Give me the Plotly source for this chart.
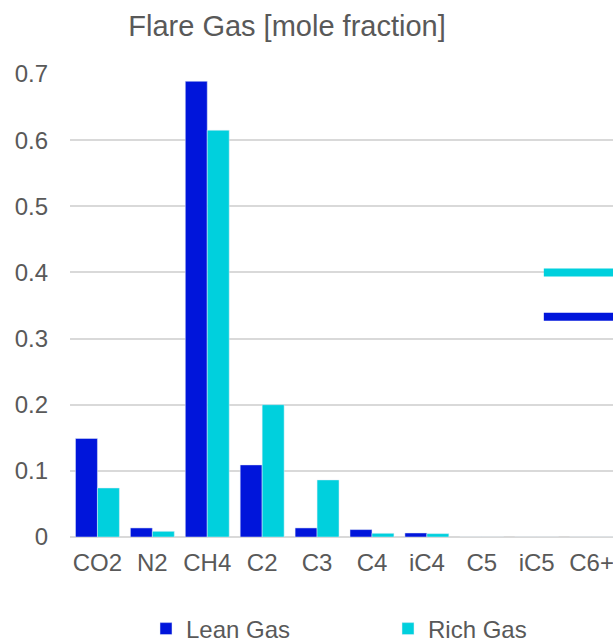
import plotly.graph_objects as go

categories = ["CO2", "N2", "CH4", "C2", "C3", "C4", "iC4", "C5", "iC5", "C6+"]
lean_gas = [0.149, 0.0137, 0.689, 0.109, 0.0137, 0.0112, 0.0061, 0, 0, 0]
rich_gas = [0.0741, 0.0086, 0.615, 0.200, 0.0863, 0.0056, 0.0051, 0, 0, 0]
# partially visible overlay segments at the right edge
overlay_x = [8.13, 9.6]
overlay_rich = 0.40
overlay_lean = 0.333
y_ticks = [0, 0.1, 0.2, 0.3, 0.4, 0.5, 0.6, 0.7]
y_tick_text = ["0", "0.1", "0.2", "0.3", "0.4", "0.5", "0.6", "0.7"]

LEAN = "#0015DB"
RICH = "#00D0DD"
TXT = "#595959"
GRID = "#D9D9D9"
FONT = "Liberation Sans, Arial, sans-serif"

xpos = list(range(len(categories)))

fig = go.Figure()
fig.add_trace(go.Bar(x=xpos, y=lean_gas, name="Lean Gas", marker_color=LEAN))
fig.add_trace(go.Bar(x=xpos, y=rich_gas, name="Rich Gas", marker_color=RICH))
fig.add_trace(go.Scatter(x=overlay_x, y=[overlay_rich] * 2, mode="lines",
                         line=dict(color=RICH, width=8), showlegend=False, hoverinfo="skip"))
fig.add_trace(go.Scatter(x=overlay_x, y=[overlay_lean] * 2, mode="lines",
                         line=dict(color=LEAN, width=8), showlegend=False, hoverinfo="skip"))

fig.update_layout(
    width=613, height=643,
    margin=dict(l=70, r=0, t=74, b=106, autoexpand=False),
    paper_bgcolor="white", plot_bgcolor="white",
    font=dict(family=FONT, color=TXT, size=24),
    title=dict(text="Flare Gas [mole fraction]", x=287 / 613, xref="container",
               xanchor="center", y=1 - 26 / 643, yref="container", yanchor="middle",
               automargin=False,
               font=dict(size=29, color=TXT, family=FONT)),
    barmode="group", bargap=0.2, bargroupgap=0,
    showlegend=True,
    legend=dict(orientation="h", x=(146 - 70) / 543, xanchor="left", y=-(629 - 537) / 463,
                yanchor="middle", font=dict(size=24, color=TXT),
                entrywidth=197, entrywidthmode="pixels"),
    xaxis=dict(range=[-0.5, 9.39], tickmode="array", tickvals=xpos, ticktext=categories,
               showgrid=False, zeroline=False, showline=False, ticks="", automargin=False,
               ticklabeloverflow="allow",
               tickfont=dict(size=24, color=TXT), ticklabelstandoff=9),
    yaxis=dict(range=[0, 0.7], tickmode="array", tickvals=y_ticks, ticktext=y_tick_text,
               showgrid=True, gridcolor=GRID, gridwidth=1.5, zeroline=True,
               zerolinecolor=GRID, zerolinewidth=1.5, showline=False, ticks="", automargin=False,
               tickfont=dict(size=24, color=TXT), ticklabelstandoff=21),
)

fig.write_html("out.html", config={"displayModeBar": False},
               post_script="document.body.style.margin='0';document.body.style.overflow='hidden';")
